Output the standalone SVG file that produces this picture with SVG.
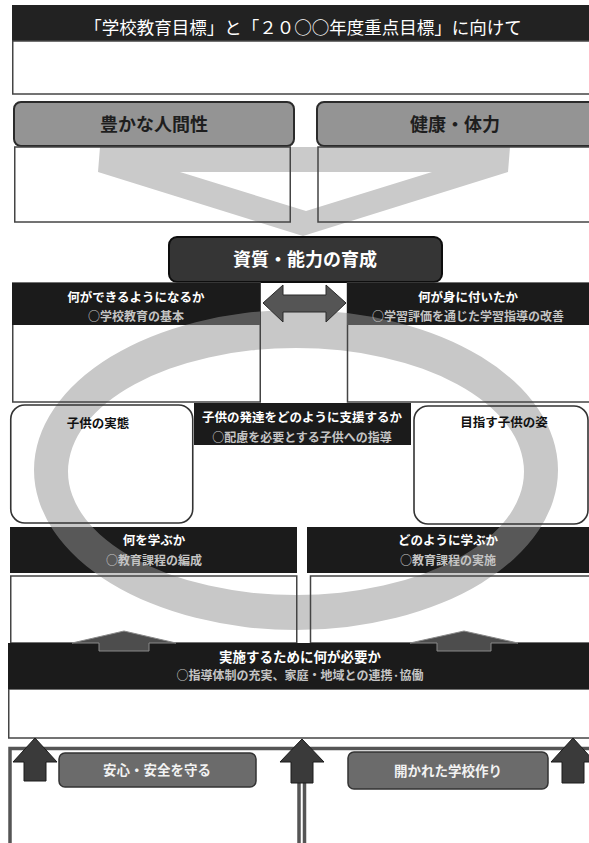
<svg xmlns="http://www.w3.org/2000/svg" width="589" height="843" viewBox="0 0 589 843">
<defs>
<style>
.t{font-family:"Noto Sans CJK JP","Noto Sans",sans-serif;text-anchor:middle}
.w{fill:#fff;font-weight:700;font-size:12.5px}
.s{fill:#c4c4c4;font-weight:700;font-size:12px}
.k{fill:#111;font-weight:700;font-size:12.5px}
.box{fill:none;stroke:#444;stroke-width:1.5}
.rbox{fill:none;stroke:#333;stroke-width:1.6}
.dark{fill:#1b1b1b}
.gbox{fill:#949494;stroke:#2b2b2b;stroke-width:2}
.lbl{fill:#6b6b6b;stroke:#333;stroke-width:1.5}
.frame{fill:none;stroke:#555;stroke-width:3.5}
.rov{fill:#a4a4a4;opacity:.45}
.up1{fill:#4d4d4d;stroke:#8a8a8a;stroke-width:1}
.up2{fill:#3a3a3a;stroke:#1a1a1a;stroke-width:1}
</style>
<path id="ringShape" fill-rule="evenodd" d="M34 470A262 160 0 1 0 558 470A262 160 0 1 0 34 470ZM68 471.5A228 123.5 0 1 0 524 471.5A228 123.5 0 1 0 68 471.5Z"/>
<clipPath id="cA"><rect x="12" y="283" width="248" height="42"/></clipPath>
<clipPath id="cB"><rect x="347" y="283" width="250" height="42"/></clipPath>
<clipPath id="cC"><rect x="10" y="527" width="287" height="46"/></clipPath>
<clipPath id="cD"><rect x="307" y="527" width="290" height="46"/></clipPath>
</defs>
<rect width="589" height="843" fill="#fff"/>
<g id="decor">
<path id="funnel" fill="#cacaca" fill-rule="evenodd" d="M100 147L510 147L508 172L303 236L98 172ZM180 172L432 172L306 211Z"/>
<use href="#ringShape" fill="#c8c8c8"/>
</g>
<g id="nodes">
<g id="n-header">
<rect x="12" y="5" width="580" height="36" fill="#222"/>
<rect x="12.75" y="41" width="580" height="53" class="box"/>
<text x="303" y="33.5" class="t" font-size="17.5" fill="#fff">「学校教育目標」と「２０○○年度重点目標」に向けて</text>
</g>
<g id="n-yutaka">
<rect x="14" y="102" width="280" height="44" rx="7" class="gbox"/>
<rect x="14.75" y="147" width="275.5" height="75" class="box"/>
<text x="154" y="131" class="t" font-size="18" font-weight="700" fill="#1e1e1e">豊かな人間性</text>
</g>
<g id="n-kenko">
<rect x="317" y="102" width="284" height="44" rx="7" class="gbox"/>
<rect x="318" y="147" width="282" height="75" class="box"/>
<text x="455" y="131" class="t" font-size="18" font-weight="700" fill="#1e1e1e">健康・体力</text>
</g>
<g id="n-shishitsu">
<rect x="169" y="237" width="273" height="45" rx="8" fill="#353535" stroke="#0d0d0d" stroke-width="2"/>
<text x="305" y="266" class="t" font-size="18" font-weight="700" fill="#fff">資質・能力の育成</text>
</g>
<g id="n-dekiru">
<rect x="12.75" y="283" width="247.5" height="119" class="box"/>
<rect x="12" y="283" width="248" height="42" class="dark"/>
<use href="#ringShape" class="rov" clip-path="url(#cA)"/>
<text x="136" y="302" class="t w">何ができるようになるか</text>
<text x="136" y="320.5" class="t s">○学校教育の基本</text>
</g>
<g id="n-mini">
<rect x="347.5" y="283" width="250" height="119" class="box"/>
<rect x="347" y="283" width="250" height="42" class="dark"/>
<use href="#ringShape" class="rov" clip-path="url(#cB)"/>
<text x="468" y="302" class="t w">何が身に付いたか</text>
<text x="468" y="320.5" class="t s">○学習評価を通じた学習指導の改善</text>
</g>
<g id="n-jittai">
<rect x="10.75" y="405" width="182" height="118" rx="14" class="rbox"/>
<text x="98" y="427.5" class="t k">子供の実態</text>
</g>
<g id="n-shien">
<rect x="194" y="403" width="217" height="42" class="dark"/>
<text x="302" y="421.5" class="t w">子供の発達をどのように支援するか</text>
<text x="302" y="441.5" class="t s">○配慮を必要とする子供への指導</text>
</g>
<g id="n-sugata">
<rect x="414" y="406" width="174" height="118" rx="14" class="rbox"/>
<text x="504" y="426.5" class="t k">目指す子供の姿</text>
</g>
<g id="n-nani">
<rect x="10.75" y="576" width="286" height="67" class="box"/>
<rect x="10" y="527" width="287" height="46" class="dark"/>
<use href="#ringShape" class="rov" clip-path="url(#cC)"/>
<text x="154" y="544.5" class="t w">何を学ぶか</text>
<text x="154" y="564.5" class="t s">○教育課程の編成</text>
</g>
<g id="n-dono">
<rect x="310.5" y="576" width="290" height="67" class="box"/>
<rect x="307" y="527" width="290" height="46" class="dark"/>
<use href="#ringShape" class="rov" clip-path="url(#cD)"/>
<text x="448" y="544.5" class="t w">どのように学ぶか</text>
<text x="448" y="564.5" class="t s">○教育課程の実施</text>
</g>
<g id="n-jisshi">
<rect x="8.75" y="689" width="590" height="49" class="box"/>
<rect x="8" y="643" width="590" height="46" class="dark"/>
<text x="300" y="662" class="t" font-size="13.5" font-weight="700" fill="#fff">実施するために何が必要か</text>
<text x="300" y="680" class="t s" font-size="13">○指導体制の充実、家庭・地域との連携·協働</text>
</g>
<g id="n-anshin">
<rect x="10" y="748.5" width="289" height="100" class="frame"/>
<rect x="59" y="753" width="197" height="34" rx="6" class="lbl"/>
<text x="157" y="775" class="t" font-size="13.5" font-weight="700" fill="#f2f2f2">安心・安全を守る</text>
</g>
<g id="n-hiraka">
<rect x="304.5" y="748.5" width="290" height="100" class="frame"/>
<rect x="348" y="752" width="200" height="37" rx="6" class="lbl"/>
<text x="448" y="775.5" class="t" font-size="13.5" font-weight="700" fill="#f2f2f2">開かれた学校作り</text>
</g>
</g>
<g id="connectors">
<polygon points="263,303 283,285 283,295 326,295 326,285 346,303 326,322 326,312 283,312 283,322" fill="#555" stroke="#2a2a2a" stroke-width="1"/>
<polygon class="up1" points="124,631 176,643 149,643 149,651 99,651 99,643 72,643"/>
<polygon class="up1" points="464,631 518,643 491,643 491,651 437,651 437,643 410,643"/>
<polygon class="up2" points="35,738 57,762 46,762 46,781 24,781 24,762 13,762"/>
<polygon class="up2" points="302,739 324,762 313,762 313,783 291,783 291,762 280,762"/>
<polygon class="up2" points="573,738 595,762 584,762 584,783 562,783 562,762 551,762"/>
</g>
</svg>
